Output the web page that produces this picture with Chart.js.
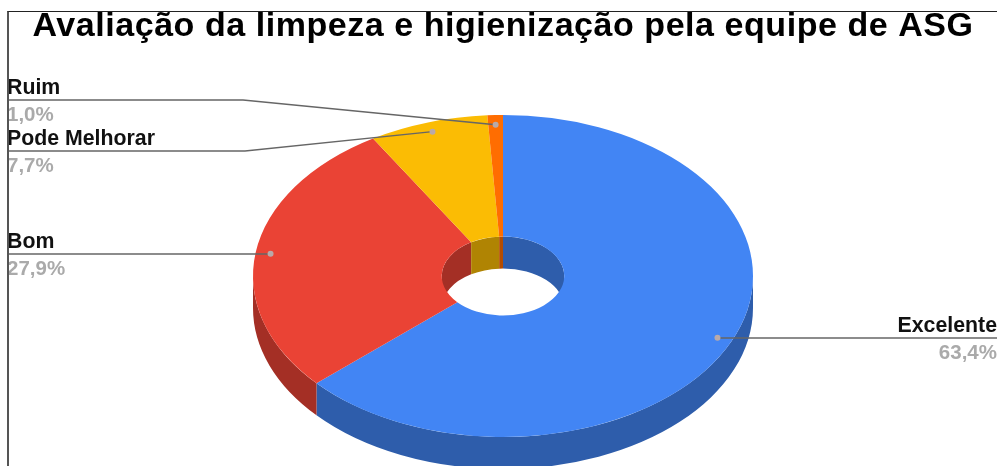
<!DOCTYPE html>
<html>
<head>
<meta charset="utf-8">
<title>Avaliação da limpeza</title>
<script src="https://cdn.jsdelivr.net/npm/chart.js@4"></script>
<style>
    html, body { margin: 0; padding: 0; background: #fff; }
    #wrap { position: relative; width: 997px; height: 466px; overflow: hidden; }
    #mask { position: absolute; left: 0; top: 0; right: 0; height: 11px; background: #fff; }
    #frame { position: absolute; left: 7px; top: 11px; right: 0; bottom: 0; border-left: 2px solid #555; border-top: 1px solid #222; }
</style>
</head>
<body>
<div id="wrap">
    <canvas id="pieChart" width="997" height="466"></canvas>
    <div id="mask"></div>
    <div id="frame"></div>
</div>
<script>
// Chart data
const categories = ['Excelente', 'Bom', 'Pode Melhorar', 'Ruim'];
const percentages = [63.4, 27.9, 7.7, 1.0];
const valueLabels = ['63,4%', '27,9%', '7,7%', '1,0%'];
const topColors = ['#4285f4', '#ea4335', '#fbbc04', '#ff6d01'];
const sideColors = ['#2e5dab', '#a42f25', '#b08403', '#b34c01'];

// 3D look: vertical squash of the circle and thickness of the ring
const SQUASH = 0.644;
const DEPTH = 32;
const DOT_RADIUS = 0.94;

// Where each leader line goes: text side and optional knee x
const leaders = [
    { side: 'right', knee: null, y: null },
    { side: 'left', knee: null, y: null },
    { side: 'left', knee: 245, y: 151 },
    { side: 'left', knee: 243, y: 100 }
];

function squashAround(ctx, cy, shift) {
    ctx.translate(0, cy + shift);
    ctx.scale(1, SQUASH);
    ctx.translate(0, -cy);
}

// Wall between the top face and the same edge moved down by DEPTH,
// only for the part of the slice that falls between from and to
function fillWall(ctx, a, radius, from, to, color) {
    const start = Math.max(a.startAngle, from);
    const end = Math.min(a.endAngle, to);
    if (end <= start) return;
    ctx.beginPath();
    ctx.save();
    squashAround(ctx, a.y, DEPTH);
    ctx.arc(a.x, a.y, radius, start, end);
    ctx.restore();
    ctx.save();
    squashAround(ctx, a.y, 0);
    ctx.arc(a.x, a.y, radius, end, start, true);
    ctx.restore();
    ctx.closePath();
    ctx.fillStyle = color;
    ctx.fill();
}

const pie3d = {
    id: 'pie3d',
    beforeDraw(chart) {
        // the title is wider than its height would give
        chart.ctx.letterSpacing = '0.55px';
    },
    beforeDatasetsDraw(chart) {
        const ctx = chart.ctx;
        const arcs = chart.getDatasetMeta(0).data;
        ctx.letterSpacing = '0px';

        arcs.forEach((arc, i) => {
            const a = arc.getProps(['x', 'y', 'startAngle', 'endAngle', 'innerRadius', 'outerRadius'], true);
            // outer wall shows on the front half, hole wall on the back half
            fillWall(ctx, a, a.outerRadius, 0, Math.PI, sideColors[i]);
            fillWall(ctx, a, a.innerRadius, -Math.PI / 2, 0, sideColors[i]);
            fillWall(ctx, a, a.innerRadius, Math.PI, Math.PI * 1.5, sideColors[i]);
        });

        // the library draws the top face inside this transform
        ctx.save();
        squashAround(ctx, arcs[0].y, 0);
    },
    afterDatasetsDraw(chart) {
        chart.ctx.restore();
    },
    afterDraw(chart) {
        const ctx = chart.ctx;
        const arcs = chart.getDatasetMeta(0).data;

        arcs.forEach((arc, i) => {
            const a = arc.getProps(['x', 'y', 'startAngle', 'endAngle', 'outerRadius'], true);
            const mid = (a.startAngle + a.endAngle) / 2;
            const dotX = a.x + Math.cos(mid) * a.outerRadius * DOT_RADIUS;
            const dotY = a.y + Math.sin(mid) * a.outerRadius * DOT_RADIUS * SQUASH;
            const lead = leaders[i];
            const lineY = lead.y === null ? Math.round(dotY) : lead.y;
            const right = lead.side === 'right';
            const edgeX = right ? chart.width : 7;

            // leader line
            ctx.strokeStyle = '#666666';
            ctx.lineWidth = 1.3;
            ctx.beginPath();
            ctx.moveTo(edgeX, lineY);
            if (lead.knee !== null) ctx.lineTo(lead.knee, lineY);
            ctx.lineTo(dotX, lead.y === null ? lineY : dotY);
            ctx.stroke();

            ctx.fillStyle = '#b9a9a9';
            ctx.beginPath();
            ctx.arc(dotX, dotY, 3, 0, Math.PI * 2);
            ctx.fill();

            // category and percentage
            ctx.textAlign = right ? 'right' : 'left';
            ctx.textBaseline = 'alphabetic';
            ctx.font = 'bold 21.3px "Liberation Sans"';
            ctx.fillStyle = '#111';
            ctx.fillText(categories[i], edgeX, lineY - 6.5);
            ctx.font = 'bold 20.5px "Liberation Sans"';
            ctx.fillStyle = '#aaaaaa';
            ctx.fillText(valueLabels[i], edgeX, lineY + 21);
        });
    }
};

new Chart(document.getElementById('pieChart'), {
    type: 'doughnut',
    data: {
        labels: categories,
        datasets: [{
            data: percentages,
            backgroundColor: topColors,
            borderWidth: 0,
            radius: 250,
            cutout: '24.5%',
            clip: false
        }]
    },
    options: {
        responsive: false,
        animation: false,
        layout: { padding: { left: 9, top: 6.5 } },
        plugins: {
            legend: { display: false },
            tooltip: { enabled: false },
            title: {
                display: true,
                text: 'Avaliação da limpeza e higienização pela equipe de ASG',
                color: '#000',
                font: { family: '"Liberation Sans"', size: 34, weight: 'bold', lineHeight: 1.2 },
                padding: { top: 0, bottom: 38.7 }
            }
        }
    },
    plugins: [pie3d]
});
</script>
</body>
</html>
